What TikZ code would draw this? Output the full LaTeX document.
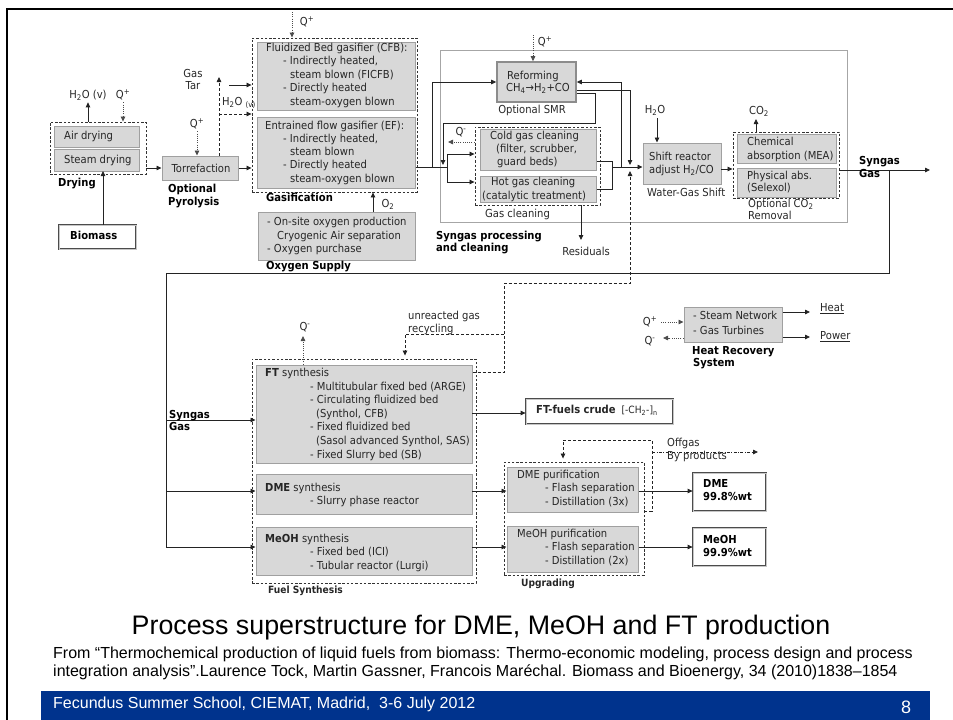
\documentclass[tikz,border=0pt]{standalone}
\usepackage{fontspec}
\setmainfont[FakeStretch=0.91]{DejaVu Sans}
\newfontfamily\arialf{Liberation Sans}
\usetikzlibrary{arrows.meta,fit}
\definecolor{fillg}{RGB}{216,216,216}
\definecolor{edgeg}{RGB}{160,160,160}
\definecolor{lineg}{RGB}{35,35,35}
\definecolor{barblue}{RGB}{0,51,141}
\newcommand\tx[4][]{\node[txt,anchor=mid west,#1] (#2) at (#3) {#4};}
\begin{document}
\begin{tikzpicture}[x=1pt,y=-1pt,
  txt/.style={inner sep=0pt, font=\fontsize{11}{13}\selectfont, text=black!85},
  bl/.style={font=\fontsize{11}{13}\selectfont\bfseries, text=black},
  gbox/.style={draw=edgeg, fill=fillg, line width=1pt, inner sep=0pt},
  env/.style={draw=black!80, dash pattern=on 2.5pt off 1.8pt, line width=0.9pt, inner sep=0pt},
  pbox/.style={draw=black!70, double=gray!45, double distance=1pt, line width=0.8pt, fill=white, inner sep=0pt},
  con/.style={draw=lineg, line width=0.8pt},
  arr/.style={con, -{Triangle[length=5pt,width=4.5pt]}},
  darr/.style={arr, dash pattern=on 3pt off 2pt},
  qarr/.style={arr, draw=black!70, dash pattern=on 1pt off 1.2pt},
  ddarr/.style={arr, dash pattern=on 3pt off 1.5pt on 0.8pt off 1.5pt}]
\useasboundingbox (0,0) rectangle (953,720);
% slide frame
\draw[line width=2.6pt] (6,9) -- (953,9);
\draw[line width=2pt] (7,9) -- (7,720);

% ---------- Drying ----------
\node[gbox, fit={(54,126) (139,147)}] (air) {};
\node[gbox, fit={(54,149) (139,171)}] (steam) {};
\node[env, fit={(50,122) (146,174)}] (dry) {};
\tx{airt}{64,137}{Air drying}
\tx{steamt}{64,161}{Steam drying}
\tx[bl]{dryl}{58,184}{Drying}
\node[txt] (h2ov) at (88,95) {H\textsubscript{2}O (v)};
\node[txt] (q1) at (123,95) {Q\textsuperscript{+}};
\draw[arr, shorten >=2pt] (h2ov.south |- dry.north) -- (h2ov.south);
\draw[qarr, shorten <=2pt] (q1.south) -- (q1.south |- dry.north);
\node[pbox, fit={(59,225) (136,249)}] (bio) {};
\tx[bl]{biot}{70,237}{Biomass}
\coordinate (bioup) at (103,171);
\draw[arr] (bio.north -| bioup) -- (bioup);

% ---------- Torrefaction ----------
\node[gbox, fit={(162,156) (238,180)}] (torr) {};
\node[txt] (torrt) at (201,168) {Torrefaction};
\draw[arr] (dry.east |- torr.west) -- (torr.west);
\node[txt] (q2) at (197,124) {Q\textsuperscript{+}};
\draw[qarr, shorten <=2pt] (q2.south) -- (q2.south |- torr.north);
\tx[bl]{pyr1}{168,190}{Optional}
\tx[bl]{pyr2}{168,203}{Pyrolysis}
\node[txt] (gast) at (193,73) {Gas};
\node[txt] (tart) at (193,86) {Tar};
\tx{h2og}{222,103}{H\textsubscript{2}O \textsubscript{(v)}}

% ---------- Gasification ----------
\node[gbox, fit={(257,42) (415,110)}] (cfb) {};
\node[gbox, fit={(257,117) (415,188)}] (ef) {};
\node[env, fit={(252,38) (417,192)}] (gasenv) {};
\tx{cfb1}{266,49}{Fluidized Bed gasifier (CFB):}
\tx{cfb2}{283,62}{- Indirectly heated,}
\tx{cfb3}{290,76}{steam blown (FICFB)}
\tx{cfb4}{283,89}{- Directly heated}
\tx{cfb5}{290,103}{steam-oxygen blown}
\tx{ef1}{265,127}{Entrained flow gasifier (EF):}
\tx{ef2}{283,140}{- Indirectly heated,}
\tx{ef3}{290,153}{steam blown}
\tx{ef4}{283,166}{- Directly heated}
\tx{ef5}{290,180}{steam-oxygen blown}
\tx[bl]{gasl}{266,199}{Gasification}
\coordinate (qg) at (292,12);
\draw[qarr] (qg) -- (qg |- gasenv.north);
\node[txt] (q3) at (307,22) {Q\textsuperscript{+}};
\node[gbox, fit={(258,212) (415,260)}] (oxy) {};
\tx{oxy1}{267,223}{- On-site oxygen production}
\tx{oxy2}{277,237}{Cryogenic Air separation}
\tx{oxy3}{267,250}{- Oxygen purchase}
\tx[bl]{oxyl}{266,267}{Oxygen Supply}
\coordinate (o2c) at (373,212);
\draw[arr] (o2c) -- (o2c |- gasenv.south);
\node[txt] (o2t) at (388,204) {O\textsubscript{2}};
\coordinate (gt) at (219,77);
\draw[darr] (torr.north -| gt) -- (gt);
\coordinate (h2oj) at (219,114);
\draw[darr] (h2oj) -- (h2oj -| gasenv.west);
\coordinate (gtin) at (229,85);
\draw[arr] (gtin) -- (gtin -| gasenv.west);
\draw[arr] (torr.east) -- (torr.east -| gasenv.west);

% ---------- Syngas processing ----------
\node[draw=gray!70, line width=0.8pt, inner sep=0pt, fit={(440,50) (847,222)}] (spbox) {};
\node[gbox, draw=black!45, line width=1.6pt, fit={(497,62) (576,102)}] (ref) {};
\tx{reft1}{507,77}{Reforming}
\tx{reft2}{506,89}{CH\textsubscript{4}→H\textsubscript{2}+CO}
\node[txt] (smr) at (532,110) {Optional SMR};
\coordinate (qr) at (533,35);
\draw[qarr] (qr) -- (qr |- ref.north);
\node[txt] (q4) at (545,42) {Q\textsuperscript{+}};

\node[gbox, fit={(480,129) (596,170)}] (cold) {};
\node[gbox, fit={(480,176) (596,202)}] (hot) {};
\node[env, fit={(475,127) (600,205)}] (gcenv) {};
\tx{cg1}{490,137}{Cold gas cleaning}
\tx{cg2}{496,150}{(filter, scrubber,}
\tx{cg3}{497,163}{guard beds)}
\tx{hg1}{491,183}{Hot gas cleaning}
\tx{hg2}{482,197}{(catalytic treatment)}
\tx{gcl}{485,215}{Gas cleaning}
\node[txt] (q5) at (461,132) {Q\textsuperscript{-}};
\coordinate (qc) at (448,142);
\draw[qarr] (qc -| gcenv.west) -- (qc);

\node[gbox, fit={(643,143) (721,184)}] (shift) {};
\tx{sht1}{649,158}{Shift reactor}
\tx{sht2}{649,171}{adjust H\textsubscript{2}/CO}
\tx{wgs}{647,194}{Water-Gas Shift}
\node[txt] (h2ot) at (655,110) {H\textsubscript{2}O};
\coordinate (h2os) at (657,118);
\draw[arr] (h2os) -- (h2os |- shift.north);

\node[gbox, fit={(737,134) (836,163)}] (chem) {};
\node[gbox, fit={(737,168) (836,197)}] (phys) {};
\node[env, fit={(733,132) (839,198)}] (co2env) {};
\tx{ch1}{747,143}{Chemical}
\tx{ch2}{747,157}{absorption (MEA)}
\tx{ph1}{747,177}{Physical abs.}
\tx{ph2}{747,189}{(Selexol)}
\node[txt] (co2t) at (759,111) {CO\textsubscript{2}};
\coordinate (co2a) at (756,119);
\draw[arr] (co2a |- co2env.north) -- (co2a);
\tx{co2l1}{748,205}{Optional CO\textsubscript{2}}
\tx{co2l2}{748,217}{Removal}
\tx[bl]{spl1}{436,237}{Syngas processing}
\tx[bl]{spl2}{436,249}{and cleaning}

% junctions and connectors of syngas processing
\coordinate (jA) at (432,167);
\coordinate (jB) at (447,167);
\coordinate (jB1) at (447,154);
\coordinate (jB2) at (447,182);
\draw[con] (jA -| ef.east) -- (jB);
\draw[arr] (jA) |- (ref.west);
\draw[con] (jB1) -- (jB2);
\draw[arr] (jB1) -- (jB1 -| gcenv.west);
\draw[arr] (jB2) -- (jB2 -| gcenv.west);
\coordinate (rl1) at (595,123);
\coordinate (rl2) at (443,123);
\coordinate (rl3) at (443,165);
\draw[arr] ([yshift=-11pt]ref.east) -| (rl1) -- (rl2) -- (rl3);
\coordinate (jC) at (621,167);
\coordinate (jDt) at (630,165);
\draw[arr] (jC) |- (ref.east);
\draw[arr] ([yshift=-8pt]ref.east) -| (jDt);
\coordinate (co1) at (612,161);
\coordinate (co2) at (612,189);
\coordinate (jE) at (612,167);
\draw[con] (co1 -| cold.east) -- (co1) -- (jE);
\draw[con] (co2 -| hot.east) -- (co2) -- (jE);
\draw[arr] (jE) -- (jE -| shift.west);
\coordinate (res) at (581,240);
\draw[arr] (res |- gcenv.south) -- (res);
\node[txt] (rest) at (586,251) {Residuals};
\coordinate (sh1) at (721,169);
\draw[arr] (sh1) -- (sh1 -| co2env.west);
\coordinate (sgo) at (930,170);
\draw[arr] (sgo -| co2env.east) -- (sgo);
\tx[bl]{sg1}{859,162}{Syngas}
\tx[bl]{sg2}{859,175}{Gas}
\coordinate (d1) at (889,170);
\coordinate (d2) at (889,273);
\coordinate (d3) at (166,273);
\coordinate (d4) at (166,547);
\draw[con] (d1) -- (d2) -- (d3) -- (d4);

% ---------- Fuel synthesis ----------
\node[gbox, fit={(256,365) (472,463)}] (ft) {};
\node[gbox, fit={(256,474) (472,514)}] (dme) {};
\node[gbox, fit={(256,527) (472,575)}] (meoh) {};
\node[env, fit={(252,359) (476,583)}] (fsenv) {};
\tx{ft1}{265,374}{\textbf{FT} synthesis}
\tx{ft2}{310,388}{- Multitubular fixed bed (ARGE)}
\tx{ft3}{310,401}{- Circulating fluidized bed}
\tx{ft4}{316,415}{(Synthol, CFB)}
\tx{ft5}{310,428}{- Fixed fluidized bed}
\tx{ft6}{316,442}{(Sasol advanced Synthol, SAS)}
\tx{ft7}{310,456}{- Fixed Slurry bed (SB)}
\tx{dm1}{265,489}{\textbf{DME} synthesis}
\tx{dm2}{310,502}{- Slurry phase reactor}
\tx{me1}{265,540}{\textbf{MeOH} synthesis}
\tx{me2}{310,553}{- Fixed bed (ICI)}
\tx{me3}{310,567}{- Tubular reactor (Lurgi)}
\tx[font=\fontsize{10}{12}\selectfont\bfseries]{fsl}{268,591}{Fuel Synthesis}
\coordinate (f1) at (166,420);
\coordinate (f2) at (166,491);
\draw[arr] (f1) -- (f1 -| ft.west);
\draw[arr] (f2) -- (f2 -| dme.west);
\draw[arr] (d4) -- (d4 -| meoh.west);
\tx[bl]{sgf1}{169,416}{Syngas}
\tx[bl]{sgf2}{169,428}{Gas}
\node[txt] (q6) at (305,327) {Q\textsuperscript{-}};
\coordinate (qf) at (303,336);
\draw[qarr] (qf |- ft.north) -- (qf);
\coordinate (r1) at (504,372);
\coordinate (r2) at (504,283);
\coordinate (r3) at (630,283);
\coordinate (r4) at (630,171);
\coordinate (r5) at (504,334);
\coordinate (r6) at (405,334);
\draw[darr] (r1 -| ft.east) -- (r1) -- (r2) -- (r3) -- (r4);
\draw[darr, shorten >=3pt] (r5) -- (r6) -- (r6 |- fsenv.north);
\tx{ur1}{408,317}{unreacted gas}
\tx{ur2}{408,330}{recycling}

\node[pbox, fit={(526,399) (673,424)}] (crude) {};
\tx{crt}{536,411}{\textbf{FT-fuels crude}\hspace{6pt}{\fontsize{10}{12}\selectfont[-CH\textsubscript{2}-]\textsubscript{n}}}
\coordinate (ftc) at (472,413);
\draw[arr] (ftc) -- (ftc -| crude.west);

% ---------- Heat recovery ----------
\node[gbox, fit={(684,307) (782,342)}] (hr) {};
\tx{hr1}{693,317}{- Steam Network}
\tx{hr2}{693,332}{- Gas Turbines}
\tx[bl]{hrl1}{692,352}{Heat Recovery}
\tx[bl]{hrl2}{693,364}{System}
\node[txt] (q7) at (650,322) {Q\textsuperscript{+}};
\node[txt] (q8) at (650,341) {Q\textsuperscript{-}};
\coordinate (hq1) at (661,322);
\coordinate (hq2) at (663,338);
\draw[qarr] (hq1) -- (hq1 -| hr.west);
\draw[qarr] (hq2 -| hr.west) -- (hq2);
\coordinate (he) at (810,312);
\coordinate (pw) at (810,337);
\draw[arr] (he -| hr.east) -- (he);
\draw[arr] (pw -| hr.east) -- (pw);
\tx{heatt}{820,309}{\underline{Heat}}
\tx{powt}{820,337}{\underline{Power}}

% ---------- Upgrading ----------
\node[gbox, fit={(507,467) (638,512)}] (dmep) {};
\node[gbox, fit={(507,526) (638,572)}] (meohp) {};
\node[env, fit={(504,462) (644,575)}] (upenv) {};
\tx{dp1}{517,476}{DME purification}
\tx{dp2}{545,489}{- Flash separation}
\tx{dp3}{545,503}{- Distillation (3x)}
\tx{mp1}{517,535}{MeOH purification}
\tx{mp2}{545,548}{- Flash separation}
\tx{mp3}{545,562}{- Distillation (2x)}
\tx[font=\fontsize{10}{12}\selectfont\bfseries]{upl}{521,584}{Upgrading}
\node[pbox, fit={(693,473) (766,511)}] (dmeprod) {};
\node[pbox, fit={(693,528) (766,566)}] (meohprod) {};
\tx[bl]{dmeq1}{703,485}{DME}
\tx[bl]{dmeq2}{703,498}{99.8\%wt}
\tx[bl]{meq1}{703,541}{MeOH}
\tx[bl]{meq2}{703,554}{99.9\%wt}
\coordinate (u1) at (472,491);
\coordinate (u2) at (472,547);
\draw[arr] (u1) -- (u1 -| dmep.west);
\draw[arr] (u2) -- (u2 -| meohp.west);
\draw[arr] (dmep.east |- u1) -- (u1 -| dmeprod.west);
\draw[arr] (meohp.east |- u2) -- (u2 -| meohprod.west);
\coordinate (og1) at (652,511);
\coordinate (og2) at (652,440);
\coordinate (og3) at (563,440);
\draw[darr, shorten >=3pt] (og1 -| upenv.east) -- (og1) -- (og2) -- (og3) -- (og3 |- upenv.north);
\coordinate (og5) at (652,452);
\coordinate (og6) at (758,452);
\draw[ddarr] (og5) -- (og6);
\tx{ogt1}{667,444}{Offgas}
\tx{ogt2}{667,457}{By products}

% ---------- Slide texts ----------
\node[font=\arialf\fontsize{26.8}{30}\selectfont, inner sep=0pt] (title) at (481,628) {Process superstructure for DME, MeOH and FT production};
\tx[font=\arialf\fontsize{16}{18}\selectfont, text=black]{cit1}{53,656}{From “Thermochemical production of liquid fuels from biomass: Thermo-economic modeling, process design and process}
\tx[font=\arialf\fontsize{16}{18}\selectfont, text=black]{cit2}{53,674}{integration analysis”.Laurence Tock, Martin Gassner, Francois Maréchal. Biomass and Bioenergy, 34 (2010)1838–1854}
\fill[barblue] (41,691) rectangle (930,720);
\tx[font=\arialf\fontsize{16}{18}\selectfont, text=white]{foot}{53,706}{Fecundus Summer School, CIEMAT, Madrid,\ \ 3-6 July 2012}
\node[font=\arialf\fontsize{18}{20}\selectfont, text=white, inner sep=0pt] (pg) at (906,707) {8};
\end{tikzpicture}
\end{document}
